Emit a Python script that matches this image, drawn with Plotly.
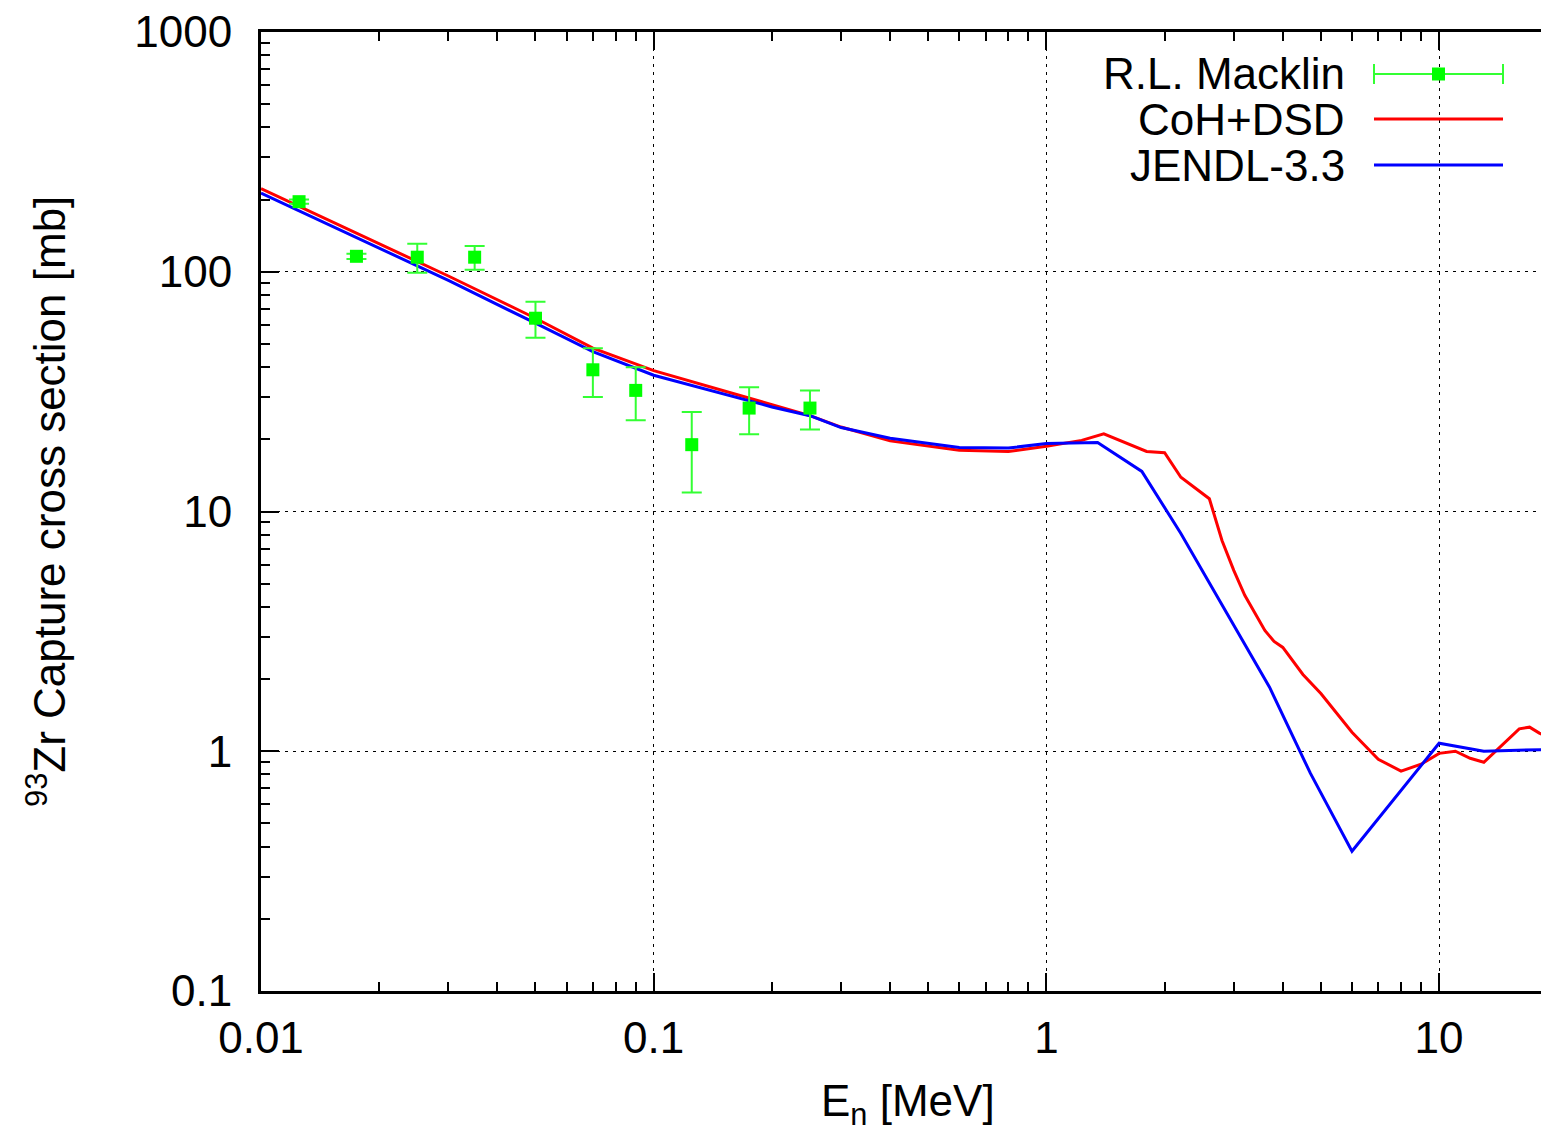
import plotly.graph_objects as go

# R.L. Macklin measurement (E in MeV, capture xs in mb, symmetric error)
macklin_e = [0.0125, 0.0175, 0.025, 0.035, 0.05, 0.07, 0.09, 0.125, 0.175, 0.25]
macklin_xs = [196, 116, 115, 115, 64, 39, 32, 19, 27, 27]
macklin_err = [4, 3, 16, 13, 11, 9, 8, 7, 6, 5]

# CoH+DSD calculation
coh_e = [0.01, 0.02, 0.03, 0.05, 0.07, 0.1, 0.15, 0.2, 0.25, 0.3, 0.4, 0.6, 0.8,
         1.0, 1.23, 1.4, 1.6, 1.8, 2.0, 2.2, 2.6, 2.8, 3.0, 3.2, 3.6, 3.8, 4.0,
         4.5, 5.0, 6.0, 7.0, 8.0, 9.0, 10, 11, 12, 13, 15, 16, 17, 18, 20]
coh_xs = [222, 131, 96, 64, 48, 38.7, 32, 27.9, 25.1, 22.5, 19.7, 18.0, 17.8,
          18.7, 19.8, 21.1, 19.3, 17.8, 17.6, 13.9, 11.3, 7.57, 5.68, 4.47, 3.19, 2.87, 2.71,
          2.09, 1.74, 1.2, 0.926, 0.826, 0.883, 0.98, 1.0, 0.935, 0.9, 1.13, 1.24, 1.26, 1.19, 1.1]

# JENDL-3.3 evaluation
jendl_e = [0.01, 0.02, 0.03, 0.05, 0.07, 0.1, 0.15, 0.2, 0.25, 0.3, 0.4, 0.6, 0.8,
           1.0, 1.35, 1.75, 2.2, 3.7, 4.7, 6.0, 10, 13, 20]
jendl_xs = [213, 126, 92, 61, 46.4, 37, 31, 27.3, 25.1, 22.4, 20.2, 18.5, 18.4,
            19.2, 19.4, 14.7, 8.1, 1.85, 0.81, 0.383, 1.08, 1.0, 1.02]

x_ticks = [0.01, 0.1, 1, 10]
x_ticktext = ['0.01', '0.1', '1', '10']
y_ticks = [0.1, 1, 10, 100, 1000]
y_ticktext = ['0.1', '1', '10', '100', '1000']

FONT = 'Liberation Sans, Arial, sans-serif'
W, H = 1541, 1132
L, R, T, B = 261, 0, 32, 141

def px(x):  # pixel -> paper x
    return (x - L) / (W - L - R)

def py(y):  # pixel -> paper y
    return (H - B - y) / (H - T - B)

minor_x = [m * 10.0 ** e for e in range(-2, 2) for m in range(2, 10)]
minor_y = [m * 10.0 ** e for e in range(-1, 3) for m in range(2, 10)]

fig = go.Figure()

fig.add_trace(go.Scatter(x=coh_e, y=coh_xs, mode='lines', name='CoH+DSD',
                         line=dict(color='#ff0000', width=3)))
fig.add_trace(go.Scatter(x=jendl_e, y=jendl_xs, mode='lines', name='JENDL-3.3',
                         line=dict(color='#0000ff', width=3)))
fig.add_trace(go.Scatter(x=macklin_e, y=macklin_xs, mode='markers', name='R.L. Macklin',
                         marker=dict(symbol='square', size=13, color='#00ff00'),
                         error_y=dict(type='data', array=macklin_err, visible=True,
                                      color='#33ff33', thickness=2, width=10)))

axis_common = dict(type='log', showline=True, linewidth=3, linecolor='black',
                   ticks='inside', ticklen=18, tickwidth=2, tickcolor='black',
                   showgrid=True, gridcolor='black', gridwidth=1, griddash='3px,5px',
                   zeroline=False, tickfont=dict(family=FONT, size=44, color='black'))

fig.update_xaxes(range=[-2, 1.2595], tickvals=x_ticks, ticktext=x_ticktext,
                 mirror='allticks', ticklabelstandoff=6,
                 minor=dict(tickvals=minor_x, ticks='inside', ticklen=9, tickwidth=2,
                            tickcolor='black', showgrid=False),
                 **axis_common)
fig.update_yaxes(range=[-1, 3], tickvals=y_ticks, ticktext=y_ticktext,
                 mirror=False, ticklabelstandoff=17,
                 minor=dict(tickvals=minor_y, ticks='inside', ticklen=9, tickwidth=2,
                            tickcolor='black', showgrid=False),
                 **axis_common)

# key box (gnuplot style, sample on the right)
shapes = [
    dict(type='rect', xref='paper', yref='paper', x0=px(1000), x1=1, y0=py(190), y1=1,
         fillcolor='white', line=dict(width=0), layer='between'),
    dict(type='line', xref='paper', yref='paper', x0=px(1374), x1=px(1503), y0=py(74), y1=py(74),
         line=dict(color='#33ff33', width=2)),
    dict(type='line', xref='paper', yref='paper', x0=px(1374), x1=px(1374), y0=py(64), y1=py(84),
         line=dict(color='#33ff33', width=2)),
    dict(type='line', xref='paper', yref='paper', x0=px(1503), x1=px(1503), y0=py(64), y1=py(84),
         line=dict(color='#33ff33', width=2)),
    dict(type='rect', xref='paper', yref='paper', x0=px(1432), x1=px(1445), y0=py(80.5), y1=py(67.5),
         fillcolor='#00ff00', line=dict(width=0)),
    dict(type='line', xref='paper', yref='paper', x0=px(1374), x1=px(1503), y0=py(119), y1=py(119),
         line=dict(color='#ff0000', width=3)),
    dict(type='line', xref='paper', yref='paper', x0=px(1374), x1=px(1503), y0=py(165), y1=py(165),
         line=dict(color='#0000ff', width=3)),
]

annotations = []
for label, yy in [('R.L. Macklin', 74), ('CoH+DSD', 119), ('JENDL-3.3', 165)]:
    annotations.append(dict(text=label, xref='paper', yref='paper', x=px(1347), y=py(yy),
                            xanchor='right', yanchor='middle', showarrow=False,
                            font=dict(family=FONT, size=44, color='black')))

annotations.append(dict(text='E<sub>n</sub> [MeV]', xref='paper', yref='paper',
                        x=px(908), y=py(1104), xanchor='center', yanchor='middle',
                        showarrow=False, font=dict(family=FONT, size=44, color='black')))
annotations.append(dict(text='<sup>93</sup>Zr Capture cross section [mb]', xref='paper',
                        yref='paper', x=px(47), y=py(502), xanchor='center', yanchor='middle',
                        textangle=-90, showarrow=False,
                        font=dict(family=FONT, size=44, color='black')))

fig.update_layout(width=W, height=H, margin=dict(l=L, r=R, t=T, b=B, autoexpand=False),
                  plot_bgcolor='white', paper_bgcolor='white', showlegend=False,
                  shapes=shapes, annotations=annotations,
                  font=dict(family=FONT, size=44, color='black'))

fig.write_html('out.html', config={'displayModeBar': False},
               post_script="document.body.style.margin='0';")
